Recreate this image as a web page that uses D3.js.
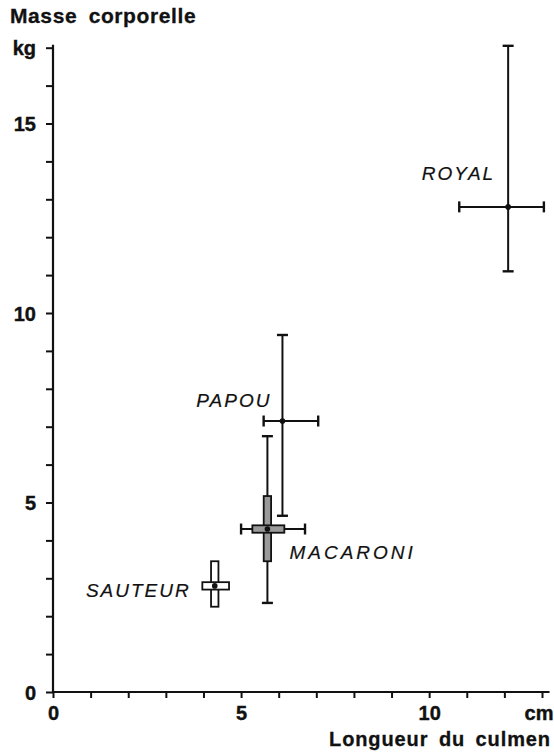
<!DOCTYPE html>
<html>
<head>
<meta charset="utf-8">
<script src="https://cdn.jsdelivr.net/npm/d3@7"></script>
<style>
  body { margin: 0; background: #fff; }
  text { font-family: "Liberation Sans", Arial, sans-serif; fill: #111; }
</style>
</head>
<body>
<div id="chart"></div>
<script>
// manchots : longueur du culmen (cm) et masse corporelle (kg)
const species = ["ROYAL", "PAPOU", "MACARONI", "SAUTEUR"];
const culmen = [12.1, 6.1, 5.7, 4.3];
const mass = [12.8, 7.15, 4.3, 2.8];
// étendue (barres)
const culmenMin = [10.8, 5.6, 5.0, null];
const culmenMax = [13.05, 7.05, 6.7, null];
const massMin = [11.1, 4.65, 2.35, null];
const massMax = [17.05, 9.42, 6.75, null];
// écart (rectangles)
const boxCulmenMin = [null, null, 5.3, 3.97];
const boxCulmenMax = [null, null, 6.15, 4.68];
const boxMassMin = [null, null, 3.45, 2.25];
const boxMassMax = [null, null, 5.17, 3.45];
const boxFill = [null, null, "#9a9a9a", "#fff"];

const xTicks = d3.range(0, 14);
const yTicks = d3.range(0, 18);
const xTickLabels = { 0: "0", 5: "5", 10: "10", 13: "cm" };
const yTickLabels = { 0: "0", 5: "5", 10: "10", 15: "15", 17: "kg" };

const width = 554, height = 756;
const ink = "#111";

const svg = d3.select("#chart").append("svg")
    .attr("width", width)
    .attr("height", height);

const x = d3.scaleLinear().domain([0, 13]).range([53, 542]);
const y = d3.scaleLinear().domain([0, 17]).range([692, 47.7]);

// axes
svg.append("line")
    .attr("x1", x(0)).attr("x2", x(13.2))
    .attr("y1", y(0)).attr("y2", y(0))
    .attr("stroke", ink).attr("stroke-width", 2.2);
svg.append("line")
    .attr("x1", x(0)).attr("x2", x(0))
    .attr("y1", y(0)).attr("y2", y(17.08))
    .attr("stroke", ink).attr("stroke-width", 2.2);

const xAxis = svg.append("g")
    .attr("transform", `translate(0,${y(0)})`)
    .call(d3.axisBottom(x).tickValues(xTicks).tickSize(6).tickSizeOuter(0)
        .tickFormat(d => xTickLabels[d] || ""));
xAxis.select(".domain").remove();
xAxis.selectAll("line").attr("stroke", ink).attr("stroke-width", 2);
xAxis.selectAll("text")
    .attr("y", 28).attr("dy", 0)
    .style("font-size", "20px").style("font-weight", "bold")
    .style("font-family", "'Liberation Sans', Arial, sans-serif")
    .attr("fill", ink).attr("stroke", ink).attr("stroke-width", 0.4);
// "cm" collé au bord droit
xAxis.selectAll(".tick").filter(d => d === 13).select("text")
    .attr("text-anchor", "end").attr("x", 11);

const yAxis = svg.append("g")
    .attr("transform", `translate(${x(0)},0)`)
    .call(d3.axisLeft(y).tickValues(yTicks).tickSize(7).tickSizeOuter(0)
        .tickFormat(d => yTickLabels[d] || ""));
yAxis.select(".domain").remove();
yAxis.selectAll("line").attr("stroke", ink).attr("stroke-width", 2);
yAxis.selectAll("text")
    .attr("x", -17).attr("dy", "0.36em")
    .style("font-size", "20px").style("font-weight", "bold")
    .style("font-family", "'Liberation Sans', Arial, sans-serif")
    .attr("fill", ink).attr("stroke", ink).attr("stroke-width", 0.4);

// titres
svg.append("text")
    .attr("x", 10).attr("y", 23)
    .attr("stroke", ink).attr("stroke-width", 0.3)
    .style("font-size", "21px").style("font-weight", "bold")
    .style("letter-spacing", "0.6px").style("word-spacing", "5px")
    .text("Masse corporelle");
svg.append("text")
    .attr("x", 551).attr("y", 746)
    .attr("text-anchor", "end")
    .attr("stroke", ink).attr("stroke-width", 0.3)
    .style("font-size", "20px").style("font-weight", "bold")
    .style("letter-spacing", "0.9px").style("word-spacing", "4px")
    .text("Longueur du culmen");

const data = species.map((s, i) => ({
    name: s, cx: culmen[i], cy: mass[i],
    x0: culmenMin[i], x1: culmenMax[i], y0: massMin[i], y1: massMax[i],
    bx0: boxCulmenMin[i], bx1: boxCulmenMax[i], by0: boxMassMin[i], by1: boxMassMax[i],
    fill: boxFill[i]
}));

const cap = 5.5, half = 3.7;
const marks = svg.append("g");

data.forEach(d => {
    const g = marks.append("g");
    if (d.x0 !== null) {
        g.append("line")
            .attr("x1", x(d.x0)).attr("x2", x(d.x1))
            .attr("y1", y(d.cy)).attr("y2", y(d.cy))
            .attr("stroke", ink).attr("stroke-width", 2);
        [d.x0, d.x1].forEach(v => g.append("line")
            .attr("x1", x(v)).attr("x2", x(v))
            .attr("y1", y(d.cy) - cap).attr("y2", y(d.cy) + cap)
            .attr("stroke", ink).attr("stroke-width", 2.4));
        g.append("line")
            .attr("x1", x(d.cx)).attr("x2", x(d.cx))
            .attr("y1", y(d.y0)).attr("y2", y(d.y1))
            .attr("stroke", ink).attr("stroke-width", 2);
        [d.y0, d.y1].forEach(v => g.append("line")
            .attr("x1", x(d.cx) - cap).attr("x2", x(d.cx) + cap)
            .attr("y1", y(v)).attr("y2", y(v))
            .attr("stroke", ink).attr("stroke-width", 2.4));
    }
    if (d.bx0 !== null) {
        g.append("rect")
            .attr("x", x(d.cx) - half).attr("width", 2 * half)
            .attr("y", y(d.by1)).attr("height", y(d.by0) - y(d.by1))
            .attr("fill", d.fill).attr("stroke", ink).attr("stroke-width", 1.8);
        g.append("rect")
            .attr("x", x(d.bx0)).attr("width", x(d.bx1) - x(d.bx0))
            .attr("y", y(d.cy) - half).attr("height", 2 * half)
            .attr("fill", d.fill).attr("stroke", ink).attr("stroke-width", 1.8);
    }
    g.append("circle")
        .attr("cx", x(d.cx)).attr("cy", y(d.cy))
        .attr("r", 2.8).attr("fill", ink);
});

// noms des espèces
const labelPos = {
    ROYAL: { dx: -13, dy: -27, anchor: "end" },
    PAPOU: { dx: -11, dy: -14, anchor: "end" },
    MACARONI: { dx: 22, dy: 30, anchor: "start" },
    SAUTEUR: { dx: -24, dy: 11, anchor: "end" }
};
marks.selectAll("text.species")
    .data(data)
    .enter()
    .append("text")
    .classed("species", true)
    .attr("x", d => x(d.cx) + labelPos[d.name].dx)
    .attr("y", d => y(d.cy) + labelPos[d.name].dy)
    .attr("text-anchor", d => labelPos[d.name].anchor)
    .attr("stroke", ink).attr("stroke-width", 0.2)
    .style("font-size", "19px").style("font-style", "italic")
    .style("letter-spacing", d => d.name === "MACARONI" ? "3px" : "2px")
    .text(d => d.name);
</script>
</body>
</html>
